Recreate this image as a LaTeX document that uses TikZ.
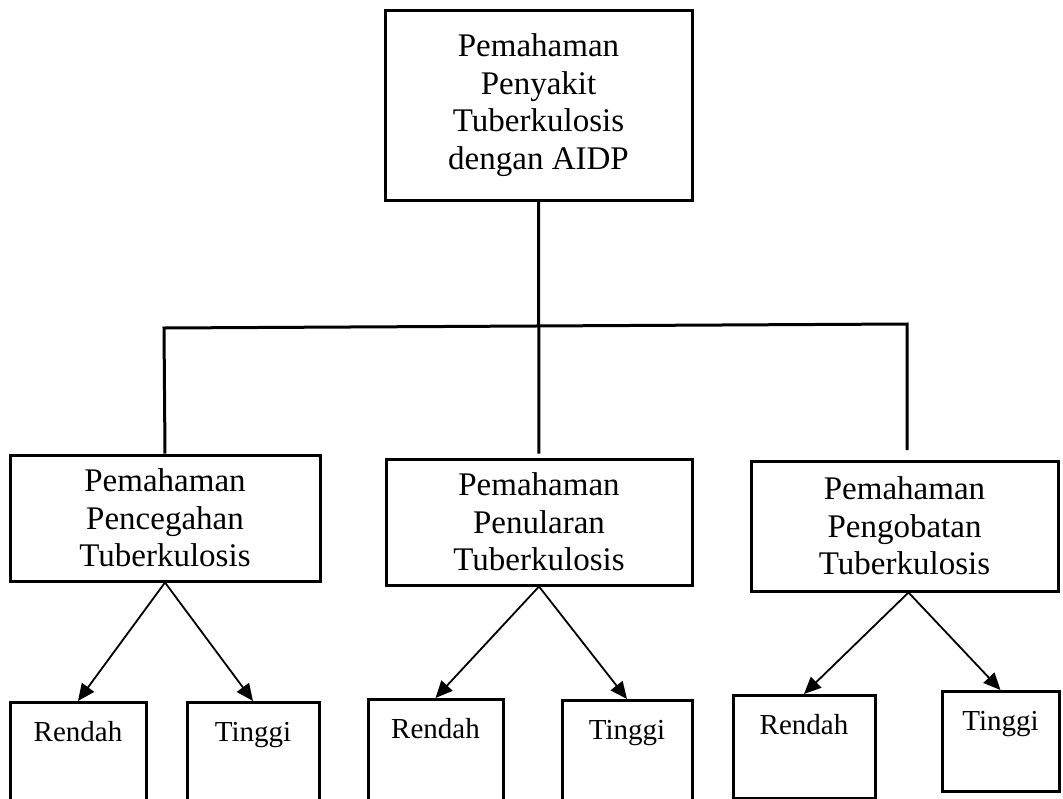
\documentclass[tikz,border=0pt]{standalone}
\usepackage{fontspec}
\setmainfont{Liberation Serif}
\usepackage{tikz}
\usetikzlibrary{shapes,arrows.meta,positioning,calc}

\begin{document}
\begin{tikzpicture}[x=1pt,y=-1pt,
    kotak/.style={draw,line width=3pt,align=center,inner sep=0pt,
        font=\fontsize{33}{37.5}\selectfont},
    daun/.style={draw,line width=3pt,anchor=north,inner xsep=0pt,inner ysep=19pt,
        text height=20pt,font=\fontsize{29}{33}\selectfont},
    garis/.style={line width=3pt},
    panah/.style={line width=1.8pt,-{Triangle[length=17pt,width=15pt]}}]
    \useasboundingbox (0,0) rectangle (1063,798);
    \clip (0,0) rectangle (1063,798);
    \fill[white] (0,0) rectangle (1063,798);
    % kotak atas
    \node[kotak,minimum width=307pt,minimum height=190pt] (atas) at (538.5,105)
        {Pemahaman\\Penyakit\\Tuberkulosis\\dengan AIDP};
    % kotak tengah
    \node[kotak,minimum width=310pt,minimum height=126pt] (cegah) at (165,518)
        {Pemahaman\\Pencegahan\\Tuberkulosis};
    \node[kotak,minimum width=306pt,minimum height=126pt] (tular) at (539,522)
        {Pemahaman\\Penularan\\Tuberkulosis};
    \node[kotak,minimum width=307pt,minimum height=130pt] (obat) at (904.5,526)
        {Pemahaman\\Pengobatan\\Tuberkulosis};
    % kotak bawah
    \node[daun,minimum width=136pt,text depth=75pt] (rendah1) at (78,701) {Rendah};
    \node[daun,minimum width=132pt,text depth=75pt] (tinggi1) at (253,701) {Tinggi};
    \node[daun,minimum width=135pt,text depth=75pt] (rendah2) at (435.5,698) {Rendah};
    \node[daun,minimum width=130pt,text depth=75pt] (tinggi2) at (627,699) {Tinggi};
    \node[daun,minimum width=142pt,text depth=45pt] (rendah3) at (804,694) {Rendah};
    \node[daun,minimum width=117pt,text depth=42pt] (tinggi3) at (1000.5,690) {Tinggi};
    % garis cabang
    \coordinate (kiri) at (164,328);
    \coordinate (kanan) at (907,324);
    \coordinate (ujung3) at (907,450);
    \draw[garis,shorten >=4pt] (atas.south) -- (tular.north);
    \draw[garis] (cegah.north) -- (kiri) -- (kanan) -- (ujung3);
    % panah
    \draw[panah] (cegah.south) -- (rendah1.north);
    \draw[panah] (cegah.south) -- (tinggi1.north);
    \draw[panah] (tular.south) -- (rendah2.north);
    \draw[panah] (tular.south) -- (tinggi2.north);
    \draw[panah] ([xshift=4pt]obat.south) -- (rendah3.north);
    \draw[panah] ([xshift=4pt]obat.south) -- (tinggi3.north);
\end{tikzpicture}
\end{document}
